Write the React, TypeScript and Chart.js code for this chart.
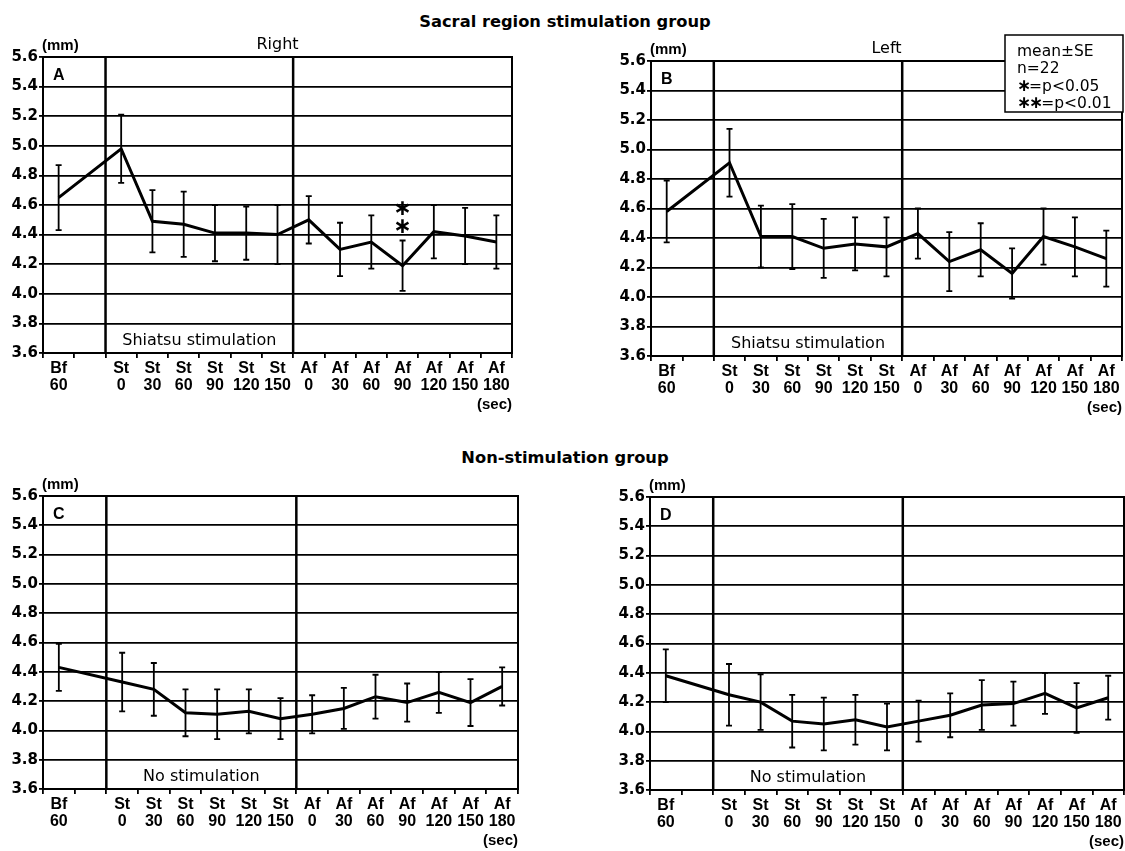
import React, { useEffect, useRef } from 'react';
import { Chart, registerables } from 'chart.js';

Chart.register(...registerables);

// ---------- data ----------
const slotLabels = ['Bf 60', '', 'St 0', 'St 30', 'St 60', 'St 90', 'St 120', 'St 150', 'Af 0', 'Af 30', 'Af 60', 'Af 90', 'Af 120', 'Af 150', 'Af 180'];
const timepoints = ['Bf 60', 'St 0', 'St 30', 'St 60', 'St 90', 'St 120', 'St 150', 'Af 0', 'Af 30', 'Af 60', 'Af 90', 'Af 120', 'Af 150', 'Af 180'];

const yMin = 3.6;
const yMax = 5.6;
const yStep = 0.2;

// A: Sacral stimulation, Right
const meanA = [4.65, 4.98, 4.49, 4.47, 4.41, 4.41, 4.40, 4.50, 4.30, 4.35, 4.19, 4.42, 4.39, 4.35];
const seA = [0.22, 0.23, 0.21, 0.22, 0.19, 0.18, 0.20, 0.16, 0.18, 0.18, 0.17, 0.18, 0.19, 0.18];
const sigA = ['', '', '', '', '', '', '', '', '', '', '**', '', '', ''];

// B: Sacral stimulation, Left
const meanB = [4.58, 4.91, 4.41, 4.41, 4.33, 4.36, 4.34, 4.43, 4.24, 4.32, 4.16, 4.41, 4.34, 4.26];
const seB = [0.21, 0.23, 0.21, 0.22, 0.20, 0.18, 0.20, 0.17, 0.20, 0.18, 0.17, 0.19, 0.20, 0.19];
const sigB = ['', '', '', '', '', '', '', '', '', '', '', '', '', ''];

// C: Non-stimulation, Right
const meanC = [4.43, 4.33, 4.28, 4.12, 4.11, 4.13, 4.08, 4.11, 4.15, 4.23, 4.19, 4.26, 4.19, 4.30];
const seC = [0.16, 0.20, 0.18, 0.16, 0.17, 0.15, 0.14, 0.13, 0.14, 0.15, 0.13, 0.14, 0.16, 0.13];
const sigC = ['', '', '', '', '', '', '', '', '', '', '', '', '', ''];

// D: Non-stimulation, Left
const meanD = [4.38, 4.25, 4.20, 4.07, 4.05, 4.08, 4.03, 4.07, 4.11, 4.18, 4.19, 4.26, 4.16, 4.23];
const seD = [0.18, 0.21, 0.19, 0.18, 0.18, 0.17, 0.16, 0.14, 0.15, 0.17, 0.15, 0.14, 0.17, 0.15];
const sigD = ['', '', '', '', '', '', '', '', '', '', '', '', '', ''];

const legendLines = ['mean±SE', 'n=22', '∗=p<0.05', '∗∗=p<0.01'];
const groupTitles = ['Sacral region stimulation group', 'Non-stimulation group'];

// ---------- layout / style ----------
const FONT = "'DejaVu Sans', 'Liberation Sans', Arial, sans-serif";
const FONT_A = "'Liberation Sans', Arial, sans-serif";
const AXW = 43;
const PT = 32;
const PR = 14;
const XH = 66;

type Rect = { l: number; r: number; t: number; b: number };
type PanelCfg = {
  letter: string;
  side: string;
  boxText: string;
  mean: number[];
  se: number[];
  sig: string[];
  rect: Rect;
  legend: boolean;
};

const panels: PanelCfg[] = [
  { letter: 'A', side: 'Right', boxText: 'Shiatsu stimulation', mean: meanA, se: seA, sig: sigA, rect: { l: 43, r: 512, t: 57, b: 353 }, legend: false },
  { letter: 'B', side: 'Left', boxText: 'Shiatsu stimulation', mean: meanB, se: seB, sig: sigB, rect: { l: 651, r: 1122, t: 61, b: 356 }, legend: true },
  { letter: 'C', side: '', boxText: 'No stimulation', mean: meanC, se: seC, sig: sigC, rect: { l: 43, r: 518, t: 496, b: 789 }, legend: false },
  { letter: 'D', side: '', boxText: 'No stimulation', mean: meanD, se: seD, sig: sigD, rect: { l: 650, r: 1124, t: 497, b: 790 }, legend: false },
];

function overlayPlugin(cfg: PanelCfg) {
  return {
    id: 'overlay' + cfg.letter,
    afterDraw(chart: any) {
      const ctx = chart.ctx as CanvasRenderingContext2D;
      const { left, right, top, bottom } = chart.chartArea;
      const xs = chart.scales.x;
      const ys = chart.scales.y;
      const slotW = xs.getPixelForValue(1) - xs.getPixelForValue(0);
      ctx.save();
      ctx.strokeStyle = '#000';
      ctx.fillStyle = '#000';

      // plot border
      ctx.lineWidth = 2;
      ctx.strokeRect(left, top, right - left, bottom - top);

      // stimulation box lines
      const b1 = xs.getPixelForValue(slotLabels.indexOf('St 0')) - slotW / 2;
      const b2 = xs.getPixelForValue(slotLabels.indexOf('Af 0')) - slotW / 2;
      ctx.lineWidth = 2.5;
      ctx.beginPath();
      ctx.moveTo(b1, top);
      ctx.lineTo(b1, bottom);
      ctx.moveTo(b2, top);
      ctx.lineTo(b2, bottom);
      ctx.stroke();

      // error bars
      ctx.lineWidth = 1.8;
      timepoints.forEach((tp, i) => {
        const px = xs.getPixelForValue(slotLabels.indexOf(tp));
        const yT = ys.getPixelForValue(cfg.mean[i] + cfg.se[i]);
        const yB = ys.getPixelForValue(cfg.mean[i] - cfg.se[i]);
        ctx.beginPath();
        ctx.moveTo(px, yT);
        ctx.lineTo(px, yB);
        ctx.moveTo(px - 3, yT);
        ctx.lineTo(px + 3, yT);
        ctx.moveTo(px - 3, yB);
        ctx.lineTo(px + 3, yB);
        ctx.stroke();
        const s = cfg.sig[i];
        if (s) {
          ctx.font = `bold 22px ${FONT}`;
          ctx.textAlign = 'center';
          ctx.textBaseline = 'middle';
          for (let k = 0; k < s.length; k++) {
            ctx.fillText('∗', px, yT - 13 - k * 18);
          }
        }
      });

      // texts
      ctx.textBaseline = 'alphabetic';
      ctx.font = `bold 15px ${FONT_A}`;
      ctx.textAlign = 'left';
      ctx.fillText('(mm)', left - 1, top - 7);

      ctx.textAlign = 'right';
      ctx.fillText('(sec)', right, bottom + 56);

      if (cfg.side) {
        ctx.font = `16px ${FONT}`;
        ctx.textAlign = 'center';
        ctx.fillText(cfg.side, (left + right) / 2, top - 8);
      }

      ctx.font = `bold 16px ${FONT_A}`;
      ctx.textAlign = 'left';
      ctx.fillText(cfg.letter, left + 10, top + 23);

      ctx.font = `16px ${FONT}`;
      ctx.textAlign = 'center';
      ctx.fillText(cfg.boxText, (b1 + b2) / 2, bottom - 8);

      if (cfg.legend) {
        const cv = chart.canvas as HTMLCanvasElement;
        const offX = parseFloat(cv.style.left) || 0;
        const offY = parseFloat(cv.style.top) || 0;
        const bx = 1005 - offX;
        const by = 35 - offY;
        const bw = 118;
        const bh = 77;
        ctx.fillStyle = '#fff';
        ctx.fillRect(bx, by, bw, bh);
        ctx.strokeStyle = '#000';
        ctx.lineWidth = 1.5;
        ctx.strokeRect(bx, by, bw, bh);
        ctx.fillStyle = '#000';
        ctx.textAlign = 'left';
        legendLines.forEach((line, i) => {
          const y = by + 21 + i * 17.3;
          let x = bx + 12;
          let rest = line;
          while (rest.startsWith('∗')) {
            ctx.font = `bold 17px ${FONT}`;
            ctx.fillText('∗', x, y);
            x += ctx.measureText('∗').width * 0.85;
            rest = rest.slice(1);
          }
          ctx.font = `15.5px ${FONT}`;
          ctx.fillText(rest, x, y);
        });
      }
      ctx.restore();
    },
  };
}

function Panel({ cfg }: { cfg: PanelCfg }) {
  const ref = useRef<HTMLCanvasElement>(null);
  const { l, r, t, b } = cfg.rect;
  const cw = r - l + AXW + PR;
  const ch = b - t + PT + XH;

  useEffect(() => {
    if (!ref.current) return;
    const chart = new Chart(ref.current, {
      type: 'line',
      data: {
        labels: slotLabels,
        datasets: [
          {
            data: timepoints.map((x, i) => ({ x, y: cfg.mean[i] })) as any,
            borderColor: '#000',
            borderWidth: 3,
            pointRadius: 0,
            pointHoverRadius: 0,
            tension: 0,
            fill: false,
          },
        ],
      },
      options: {
        animation: false,
        responsive: false,
        maintainAspectRatio: false,
        devicePixelRatio: 1,
        events: [],
        layout: { padding: { top: PT, right: PR, bottom: 0, left: 0 } },
        plugins: { legend: { display: false }, tooltip: { enabled: false }, title: { display: false } },
        scales: {
          x: {
            type: 'category',
            offset: true,
            grid: { display: true, drawOnChartArea: false, drawTicks: true, tickLength: 5, color: '#000', lineWidth: 1.8, offset: true },
            border: { display: true, color: '#000', width: 2 },
            ticks: {
              autoSkip: false,
              maxRotation: 0,
              minRotation: 0,
              padding: 2,
              color: '#000',
              font: { family: FONT_A, size: 16, weight: 'bold', lineHeight: 1.05 },
              callback: (_v: any, i: number) => (slotLabels[i] ? slotLabels[i].split(' ') : ''),
            },
            afterFit: (s: any) => {
              s.height = XH;
            },
          },
          y: {
            min: yMin,
            max: yMax,
            ticks: {
              stepSize: yStep,
              color: '#000',
              padding: 1,
              font: { family: FONT, size: 15, weight: 'bold' },
              callback: (v: any) => Number(v).toFixed(1),
            },
            grid: { color: '#000', lineWidth: 1.8, tickLength: 4 },
            border: { display: true, color: '#000', width: 2 },
            afterFit: (s: any) => {
              s.width = AXW;
            },
          },
        },
      } as any,
      plugins: [overlayPlugin(cfg)],
    });
    return () => chart.destroy();
  }, []);

  return (
    <canvas
      ref={ref}
      width={cw}
      height={ch}
      style={{ position: 'absolute', left: l - AXW, top: t - PT, width: cw, height: ch }}
    />
  );
}

export default function App() {
  const titleStyle = (cy: number): React.CSSProperties => ({
    position: 'absolute',
    left: 565 - 300,
    width: 600,
    top: cy - 8,
    textAlign: 'center',
    fontFamily: FONT,
    fontWeight: 'bold',
    fontSize: 16.3,
    lineHeight: '16.3px',
    color: '#000',
    whiteSpace: 'nowrap',
  });
  return (
    <div style={{ position: 'fixed', left: 0, top: 0, width: 1125, height: 851, overflow: 'hidden', background: '#fff' }}>
      <div style={titleStyle(21.5)}>{groupTitles[0]}</div>
      <div style={titleStyle(458)}>{groupTitles[1]}</div>
      {panels.map((p) => (
        <Panel key={p.letter} cfg={p} />
      ))}
    </div>
  );
}
